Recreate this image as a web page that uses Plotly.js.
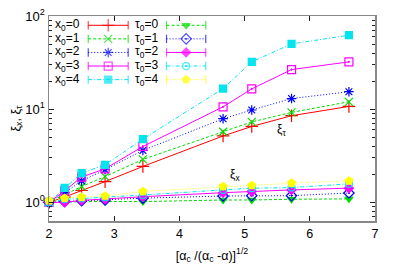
<!DOCTYPE html>
<html>
<head>
<meta charset="utf-8">
<script src="https://cdn.plot.ly/plotly-3.0.1.min.js"></script>
<style>html,body{margin:0;padding:0;background:#fff;}#chart{width:399px;height:279px;}</style>
</head>
<body>
<div id="chart"></div>
<script>
// x values: [alpha_c/(alpha_c - alpha)]^(1/2)
const xVals = [2.0, 2.24, 2.50, 2.86, 3.44, 4.67, 5.11, 5.72, 6.60];

// xi_tau curves (x0 = 0..4)
const xiTau_x0_0 = [1.0, 1.14, 1.34, 1.67, 2.43, 5.16, 6.53, 8.51, 10.7];
const xiTau_x0_1 = [1.0, 1.20, 1.48, 1.89, 2.89, 5.73, 7.30, 9.24, 12.0];
const xiTau_x0_2 = [1.0, 1.27, 1.70, 2.24, 3.61, 7.9, 9.8, 13.0, 15.4];
const xiTau_x0_3 = [1.0, 1.33, 1.87, 2.29, 3.98, 10.6, 16.5, 26.6, 32.2];
const xiTau_x0_4 = [1.0, 1.43, 2.06, 2.53, 4.78, 16.6, 32.2, 50.2, 62.2];

// xi_x curves (tau0 = 0..4)
const xiX_t0_0 = [1.0, 1.0, 1.02, 1.02, 1.02, 1.06, 1.06, 1.08, 1.09];
const xiX_t0_1 = [1.0, 1.02, 1.04, 1.06, 1.11, 1.17, 1.18, 1.18, 1.26];
const xiX_t0_2 = [1.0, 1.0, 1.05, 1.08, 1.15, 1.27, 1.31, 1.36, 1.42];
const xiX_t0_3 = [1.0, 1.08, 1.10, 1.13, 1.20, 1.36, 1.42, 1.44, 1.58];
const xiX_t0_4 = [1.04, 1.11, 1.14, 1.17, 1.31, 1.48, 1.52, 1.61, 1.70];

const seriesNames = ['x<sub>0</sub>=0','x<sub>0</sub>=1','x<sub>0</sub>=2','x<sub>0</sub>=3','x<sub>0</sub>=4',
                     'τ<sub>0</sub>=0','τ<sub>0</sub>=1','τ<sub>0</sub>=2','τ<sub>0</sub>=3','τ<sub>0</sub>=4'];
const seriesData = [xiTau_x0_0, xiTau_x0_1, xiTau_x0_2, xiTau_x0_3, xiTau_x0_4,
                    xiX_t0_0, xiX_t0_1, xiX_t0_2, xiX_t0_3, xiX_t0_4];

const DASH = '3px,2px', DOT = '1px,2px', DASHDOT = '4px,2px,1px,2px';
const styles = [
  {c:'#ff0000', dash:'solid', sym:'cross-thin-open', size:9},
  {c:'#00dd00', dash:DASH,    sym:'x-thin-open',     size:8},
  {c:'#0000ff', dash:DOT,     sym:'asterisk-open',   size:8},
  {c:'#ff00ff', dash:'solid', sym:'square-open-dot', size:8},
  {c:'#00e5ee', dash:DASHDOT, sym:'square',          size:7},
  {c:'#00dd00', dash:DASH,    sym:'triangle-down',   size:7},
  {c:'#0000ff', dash:DOT,     sym:'diamond-open-dot',size:8},
  {c:'#ff00ff', dash:'solid', sym:'diamond',         size:7},
  {c:'#00e5ee', dash:DASHDOT, sym:'circle-open-dot', size:7},
  {c:'#ffff00', dash:DOT,     sym:'pentagon',        size:8}
];

const traces = [];
seriesData.forEach((ys, i) => {
  const s = styles[i];
  traces.push({
    x: xVals, y: ys, type:'scatter', mode:'lines+markers', name: seriesNames[i],
    showlegend:false, cliponaxis:false,
    line:{color:s.c, width:1, dash:s.dash},
    marker:{symbol:s.sym, size:s.size, color:s.c, line:{color:s.c, width:1.2}}
  });
});

// manual gnuplot-style key (pixel-coordinate overlay axes)
const annotations = [];
for (let i = 0; i < 10; i++) {
  const col = i < 5 ? 0 : 1;
  const row = i % 5;
  const yRow = 25 + row * 13.6;
  const x1 = col === 0 ? 88.3 : 166.7;
  const x2 = col === 0 ? 128.3 : 206;
  const xm = (x1 + x2) / 2;
  const s = styles[i];
  traces.push({
    x:[x1, xm, x2], y:[yRow, yRow, yRow], xaxis:'x2', yaxis:'y2',
    type:'scatter', mode:'lines+markers', showlegend:false, hoverinfo:'skip', cliponaxis:false,
    line:{color:s.c, width:1, dash:s.dash},
    marker:{symbol:['line-ns-open', s.sym, 'line-ns-open'], size:[6, s.size, 6], color:s.c, line:{color:s.c, width:1.2}}
  });
  annotations.push({
    xref:'x2', yref:'y2', x: col === 0 ? 82 : 160, y: yRow, xanchor:'right', yanchor:'middle',
    text: seriesNames[i], showarrow:false, font:{size:12, color:'#000'}
  });
}
annotations.push({xref:'x2', yref:'y2', x:281.7, y:130, text:'ξ<sub>τ</sub>', showarrow:false, font:{size:12, color:'#000'}});
annotations.push({xref:'x2', yref:'y2', x:235, y:175, text:'ξ<sub>x</sub>', showarrow:false, font:{size:12, color:'#000'}});

const minorVals = [];
[1, 10].forEach(d => { for (let k = 2; k <= 9; k++) minorVals.push(k * d); });
minorVals.push(0.7, 0.8, 0.9);

const layout = {
  width:399, height:279,
  margin:{l:49, r:23.5, t:15.7, b:58},
  paper_bgcolor:'#fff', plot_bgcolor:'#fff',
  font:{family:'Liberation Sans, Arial, sans-serif', size:12, color:'#000'},
  showlegend:false,
  xaxis:{
    range:[2, 7], dtick:1, tick0:2, ticks:'inside', ticklen:5, tickcolor:'#222',
    showline:true, linecolor:'#888', linewidth:1.5, mirror:'allticks', showgrid:false, zeroline:false,
    tickfont:{size:12.5},
    title:{text:'[α<sub>c</sub> /(α<sub>c</sub> -α)]<sup>1/2</sup>', font:{size:12.5}, standoff:11}
  },
  yaxis:{
    type:'log', range:[-0.2, 2],
    tickvals:[1, 10, 100], ticktext:['10<sup>0</sup>','10<sup>1</sup>','10<sup>2</sup>'],
    ticks:'inside', ticklen:5, tickcolor:'#222',
    minor:{tickmode:'array', tickvals:minorVals, ticks:'inside', ticklen:3, tickcolor:'#222', showgrid:false},
    showline:true, linecolor:'#888', linewidth:1.5, mirror:'allticks', showgrid:false, zeroline:false,
    tickfont:{size:13},
    title:{text:'ξ<sub>x</sub>, ξ<sub>τ</sub>', font:{size:12.5}, standoff:2}
  },
  xaxis2:{overlaying:'x', anchor:'y2', range:[49, 375.5], visible:false, fixedrange:true},
  yaxis2:{overlaying:'y', anchor:'x2', range:[221, 15.7], visible:false, fixedrange:true},
  annotations: annotations
};

Plotly.newPlot('chart', traces, layout, {staticPlot:true, displayModeBar:false});
</script>
</body>
</html>
